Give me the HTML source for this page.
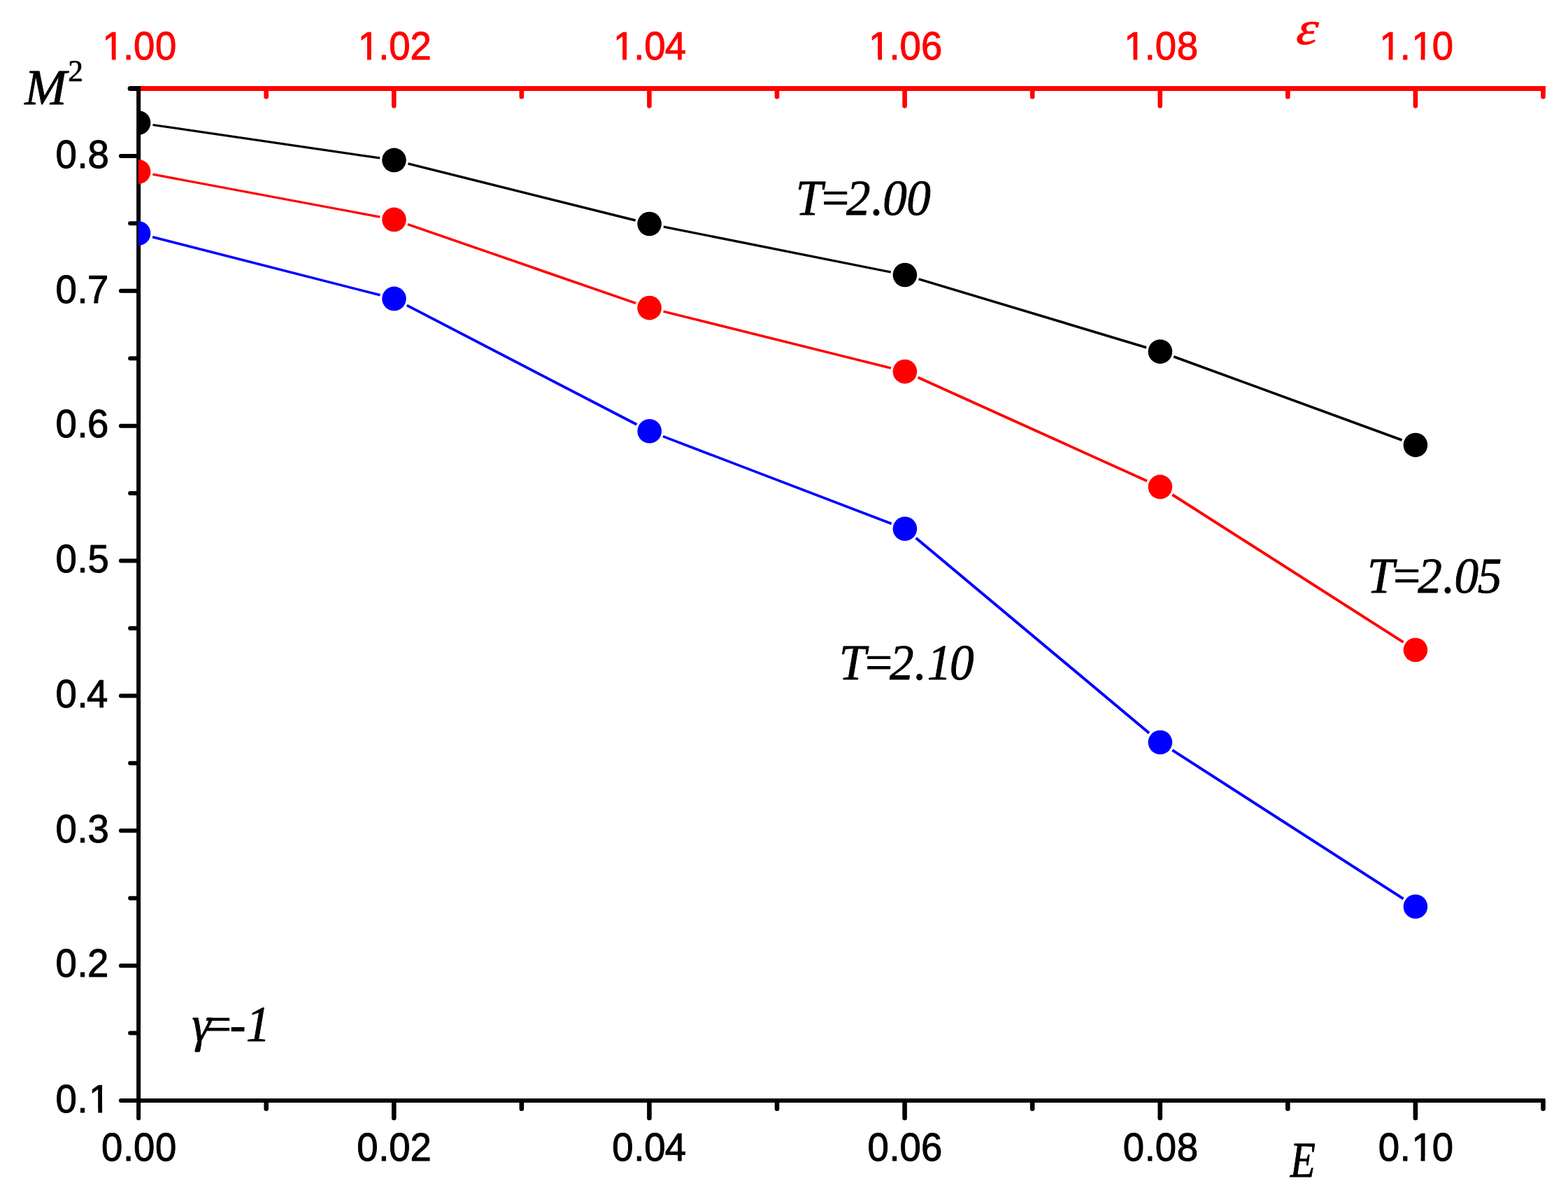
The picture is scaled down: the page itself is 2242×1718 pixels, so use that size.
<!DOCTYPE html>
<html lang="en"><head><meta charset="utf-8"><title>M² versus E</title>
<style>html,body{margin:0;padding:0;background:#fff;}body{width:2242px;height:1718px;overflow:hidden;}svg{display:block;}text{stroke-linejoin:round;paint-order:stroke fill;text-rendering:geometricPrecision;}.sans{font-family:"Liberation Sans",sans-serif;font-size:54.5px;stroke-width:1px;}.it{font-family:"Liberation Serif",serif;font-style:italic;font-size:72px;stroke-width:0.9px;}.sup{font-style:normal;font-size:43.5px;stroke-width:0.7px;}</style></head><body>
<svg width="2242" height="1718" viewBox="0 0 2242 1718">
<rect x="0" y="0" width="2242" height="1718" fill="#ffffff"/>
<!-- line segments between markers (a small gap is left around every marker) -->
<g id="series-lines" fill="none" stroke-linecap="butt">
<path stroke="#000000" stroke-width="3.23" d="M218.48 178.48L543.12 225.92"/>
<path stroke="#000000" stroke-width="3.46" d="M583.49 233.89L908.61 315.01"/>
<path stroke="#000000" stroke-width="3.35" d="M948.8 324.04L1273.7 388.96"/>
<path stroke="#000000" stroke-width="3.55" d="M1313.63 398.92L1639.17 496.68"/>
<path stroke="#000000" stroke-width="3.66" d="M1678.25 509.68L2004.55 629.02"/>
<path stroke="#ff0000" stroke-width="3.33" d="M218.35 249.2L543.25 310.1"/>
<path stroke="#ff0000" stroke-width="3.62" d="M582.97 320.63L909.13 433.37"/>
<path stroke="#ff0000" stroke-width="3.45" d="M948.59 445.08L1273.91 526.12"/>
<path stroke="#ff0000" stroke-width="3.77" d="M1312.67 539.58L1640.13 687.42"/>
<path stroke="#ff0000" stroke-width="3.94" d="M1676.26 706.99L2006.54 917.91"/>
<path stroke="#0000ff" stroke-width="3.47" d="M218.06 338.7L543.54 421.8"/>
<path stroke="#0000ff" stroke-width="3.84" d="M581.79 436.38L910.41 606.82"/>
<path stroke="#0000ff" stroke-width="3.68" d="M947.94 623.65L1274.66 748.45"/>
<path stroke="#0000ff" stroke-width="4.01" d="M1309.7 769.01L1643.1 1047.79"/>
<path stroke="#0000ff" stroke-width="3.94" d="M1676.22 1072.14L2006.58 1284.66"/>
</g>
<!-- axes and ticks: red top axis, black bottom and left axes -->
<g id="axes">
<path stroke="#ff0000" stroke-width="6.6" stroke-linecap="round" fill="none" d="M380.68 127.47V138.17M563.26 127.47V151.37M745.84 127.47V138.17M928.42 127.47V151.37M1111 127.47V138.17M1293.58 127.47V151.37M1476.16 127.47V138.17M1658.74 127.47V151.37M1841.32 127.47V138.17M2023.9 127.47V151.37M2206.48 127.47V138.17"/>
<path stroke="#ff0000" stroke-width="7" stroke-linecap="square" fill="none" d="M198.1 126.47H2206.48"/>
<path stroke="#000000" stroke-width="6.6" stroke-linecap="round" fill="none" d="M380.68 1574V1584.7M563.26 1574V1597.9M745.84 1574V1584.7M928.42 1574V1597.9M1111 1574V1584.7M1293.58 1574V1597.9M1476.16 1574V1584.7M1658.74 1574V1597.9M1841.32 1574V1584.7M2023.9 1574V1597.9M2206.48 1574V1584.7"/>
<path stroke="#000000" stroke-width="6" stroke-linecap="round" fill="none" d="M197.6 1573H172.9M197.6 1476.57H186.1M197.6 1380.13H172.9M197.6 1283.69H186.1M197.6 1187.26H172.9M197.6 1090.83H186.1M197.6 994.39H172.9M197.6 897.95H186.1M197.6 801.52H172.9M197.6 705.09H186.1M197.6 608.65H172.9M197.6 512.21H186.1M197.6 415.78H172.9M197.6 319.35H186.1M197.6 222.91H172.9"/>
<path stroke="#000000" stroke-width="7" stroke-linecap="round" fill="none" d="M197.6 126.47H186.1"/>
<path stroke="#000000" stroke-width="6.1" stroke-linecap="square" fill="none" d="M198.1 1573H2206.48"/>
<path stroke="#000000" stroke-width="6" stroke-linecap="round" fill="none" d="M198.1 1573V1598.2"/>
<path stroke="#000000" stroke-width="6" stroke-linecap="butt" fill="none" d="M198.1 122.97V1576"/>
</g>
<!-- data markers; the first column is clipped by the plot frame -->
<clipPath id="pc"><rect x="197.8" y="0" width="2242" height="1718"/></clipPath>
<g id="markers" clip-path="url(#pc)">
<circle cx="198.1" cy="175.5" r="17.3" fill="#000000"/>
<circle cx="563.5" cy="228.9" r="17.3" fill="#000000"/>
<circle cx="928.6" cy="320" r="17.3" fill="#000000"/>
<circle cx="1293.9" cy="393" r="17.3" fill="#000000"/>
<circle cx="1658.9" cy="502.6" r="17.3" fill="#000000"/>
<circle cx="2023.9" cy="636.1" r="17.3" fill="#000000"/>
<circle cx="198.1" cy="245.4" r="17.3" fill="#ff0000"/>
<circle cx="563.5" cy="313.9" r="17.3" fill="#ff0000"/>
<circle cx="928.6" cy="440.1" r="17.3" fill="#ff0000"/>
<circle cx="1293.9" cy="531.1" r="17.3" fill="#ff0000"/>
<circle cx="1658.9" cy="695.9" r="17.3" fill="#ff0000"/>
<circle cx="2023.9" cy="929" r="17.3" fill="#ff0000"/>
<circle cx="198.1" cy="333.6" r="17.3" fill="#0000ff"/>
<circle cx="563.5" cy="426.9" r="17.3" fill="#0000ff"/>
<circle cx="928.7" cy="616.3" r="17.3" fill="#0000ff"/>
<circle cx="1293.9" cy="755.8" r="17.3" fill="#0000ff"/>
<circle cx="1658.9" cy="1061" r="17.3" fill="#0000ff"/>
<circle cx="2023.9" cy="1295.8" r="17.3" fill="#0000ff"/>
</g>
<!-- tick labels -->
<g id="tick-labels">
<text class="sans" fill="#ff0000" stroke="#ff0000" x="146.6 176 191 222" y="82.13" transform="scale(1 1.035)">1.00</text>
<path fill="#ffffff" d="M149.25 79.29H159.81V86.5H149.25ZM165.62 79.29H175.75V86.5H165.62Z"/>
<text class="sans" fill="#000000" stroke="#000000" x="145 176 191 222" y="1602.9" transform="scale(1 1.035)">0.00</text>
<text class="sans" fill="#ff0000" stroke="#ff0000" x="511.76 541.16 556.16 586.56" y="82.13" transform="scale(1 1.035)">1.02</text>
<path fill="#ffffff" d="M514.41 79.29H524.97V86.5H514.41ZM530.78 79.29H540.91V86.5H530.78Z"/>
<text class="sans" fill="#000000" stroke="#000000" x="510.16 541.16 556.16 586.56" y="1602.9" transform="scale(1 1.035)">0.02</text>
<text class="sans" fill="#ff0000" stroke="#ff0000" x="876.92 906.32 921.32 950.82" y="82.13" transform="scale(1 1.035)">1.04</text>
<path fill="#ffffff" d="M879.57 79.29H890.13V86.5H879.57ZM895.94 79.29H906.07V86.5H895.94Z"/>
<text class="sans" fill="#000000" stroke="#000000" x="875.32 906.32 921.32 950.82" y="1602.9" transform="scale(1 1.035)">0.04</text>
<text class="sans" fill="#ff0000" stroke="#ff0000" x="1242.08 1271.48 1286.48 1316.98" y="82.13" transform="scale(1 1.035)">1.06</text>
<path fill="#ffffff" d="M1244.73 79.29H1255.29V86.5H1244.73ZM1261.1 79.29H1271.23V86.5H1261.1Z"/>
<text class="sans" fill="#000000" stroke="#000000" x="1240.48 1271.48 1286.48 1316.98" y="1602.9" transform="scale(1 1.035)">0.06</text>
<text class="sans" fill="#ff0000" stroke="#ff0000" x="1607.24 1636.64 1651.64 1682.64" y="82.13" transform="scale(1 1.035)">1.08</text>
<path fill="#ffffff" d="M1609.89 79.29H1620.45V86.5H1609.89ZM1626.26 79.29H1636.39V86.5H1626.26Z"/>
<text class="sans" fill="#000000" stroke="#000000" x="1605.64 1636.64 1651.64 1682.64" y="1602.9" transform="scale(1 1.035)">0.08</text>
<text class="sans" fill="#ff0000" stroke="#ff0000" x="1972.4 2001.8 2018.4 2047.8" y="82.13" transform="scale(1 1.035)">1.10</text>
<path fill="#ffffff" d="M1975.05 79.29H1985.61V86.5H1975.05ZM1991.42 79.29H2001.55V86.5H1991.42Z"/>
<path fill="#ffffff" d="M2021.05 79.29H2031.61V86.5H2021.05ZM2037.42 79.29H2047.55V86.5H2037.42Z"/>
<text class="sans" fill="#000000" stroke="#000000" x="1970.8 2001.8 2018.4 2047.8" y="1602.9" transform="scale(1 1.035)">0.10</text>
<path fill="#ffffff" d="M2021.05 1653.29H2031.61V1660.5H2021.05ZM2037.42 1653.29H2047.55V1660.5H2037.42Z"/>
<text class="sans" fill="#000000" stroke="#000000" x="79.5 110.5 127.1" y="1536.23" transform="scale(1 1.035)">0.1</text>
<path fill="#ffffff" d="M129.75 1584.29H140.31V1591.5H129.75ZM146.12 1584.29H156.25V1591.5H146.12Z"/>
<text class="sans" fill="#000000" stroke="#000000" x="79.5 110.5 124.9" y="1348.79" transform="scale(1 1.035)">0.2</text>
<text class="sans" fill="#000000" stroke="#000000" x="79.5 110.5 125.5" y="1163.29" transform="scale(1 1.035)">0.3</text>
<text class="sans" fill="#000000" stroke="#000000" x="79.5 110.5 124" y="976.81" transform="scale(1 1.035)">0.4</text>
<text class="sans" fill="#000000" stroke="#000000" x="79.5 110.5 125.5" y="790.34" transform="scale(1 1.035)">0.5</text>
<text class="sans" fill="#000000" stroke="#000000" x="79.5 110.5 125" y="603.86" transform="scale(1 1.035)">0.6</text>
<text class="sans" fill="#000000" stroke="#000000" x="79.5 110.5 125.1" y="418.36" transform="scale(1 1.035)">0.7</text>
<text class="sans" fill="#000000" stroke="#000000" x="79.5 110.5 125.5" y="231.88" transform="scale(1 1.035)">0.8</text>
</g>
<!-- axis titles and curve annotations -->
<g id="annotations">
<text class="it" fill="#000000" stroke="#000000" x="1185.18 1219.54 1260.53 1297.86 1314.92 1350.18" y="307" transform="scale(0.96 1)">T=2.00</text>
<text class="it" fill="#000000" stroke="#000000" x="2036.33 2070.68 2111.68 2149.01 2166.07 2200.69" y="846.8" transform="scale(0.96 1)">T=2.05</text>
<text class="it" fill="#000000" stroke="#000000" x="1249.66 1284.01 1325.01 1362.34 1380.89 1414.66" y="970.9" transform="scale(0.96 1)">T=2.10</text>
<text class="it" fill="#000000" stroke="#000000" x="285.83 299.64 342.09 366.3" y="1487.9" transform="scale(0.96 1)">γ=-1</text>
<text class="it" fill="#000000" stroke="#000000" x="35.23" y="148.9">M<tspan class="sup" x="97.37" y="116">2</tspan></text>
<text class="it" fill="#000000" stroke="#000000" x="2249.74" y="1682" transform="scale(0.82 1)">E</text>
<text class="it" fill="#ff0000" stroke="#ff0000" transform="translate(1852.43 63.0) scale(1.15 1) skewX(-5)" style="font-size:67px">ε</text>
</g>
</svg>
</body></html>
